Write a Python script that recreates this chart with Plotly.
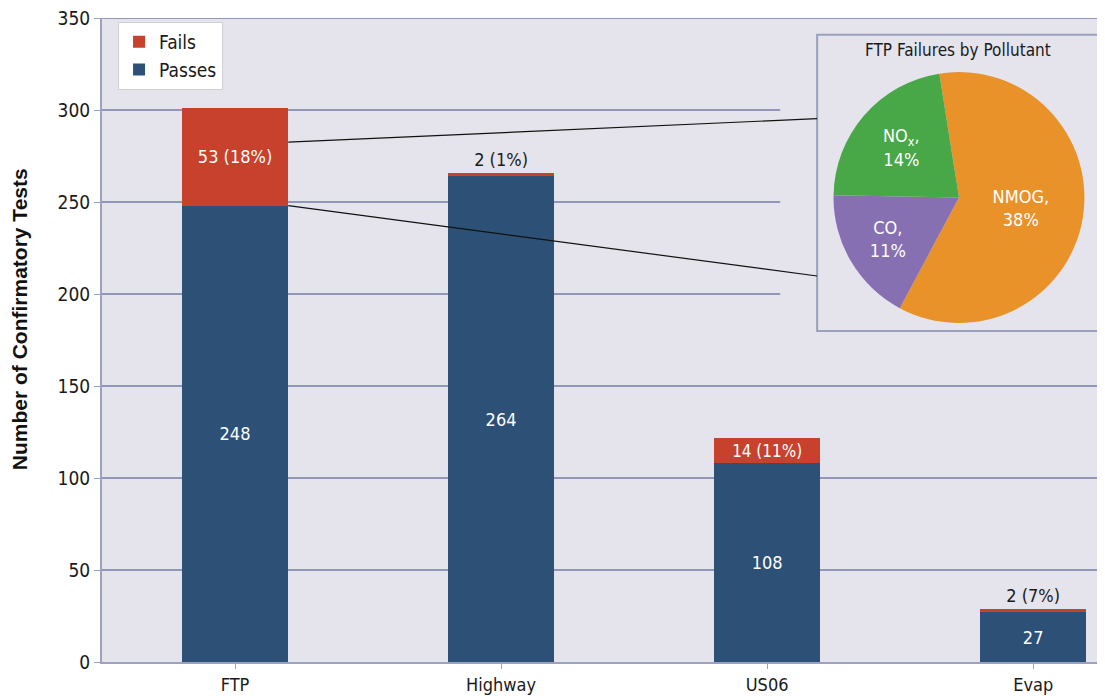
import plotly.graph_objects as go

categories = ["FTP", "Highway", "US06", "Evap"]
passes = [248, 264, 108, 27]
fails = [53, 2, 14, 2]
fail_labels = ["53 (18%)", "2 (1%)", "14 (11%)", "2 (7%)"]
fail_textpos = ["inside", "outside", "inside", "outside"]

pie_labels = ["NMOG", "CO", "NO<sub>x</sub>"]
pie_values = [38, 11, 14]
pie_text = ["NMOG,<br>38%", "CO,<br>11%", "NO<sub>x</sub>,<br>14%"]
pie_colors = ["#e89229", "#8670b2", "#48a746"]

FONT = "DejaVu Sans Condensed, Liberation Sans Narrow, Roboto, sans-serif"
TITLE_FONT = "Liberation Sans, Arial, Helvetica, sans-serif"
C_PASS = "#2d5076"
C_FAIL = "#c8412c"
BG = "#e5e4ec"
GRID = "#9198b7"
AXIS = "#9aa2bd"

x_idx = list(range(len(categories)))

fig = go.Figure()
fig.add_trace(go.Bar(
    x=x_idx, y=passes, name="Passes", marker=dict(color=C_PASS, line=dict(width=0)),
    width=0.4, text=[str(v) for v in passes], textposition="inside",
    insidetextanchor="middle", textangle=0,
    insidetextfont=dict(color="white", size=18, family=FONT),
))
fig.add_trace(go.Bar(
    x=x_idx, y=fails, name="Fails", marker=dict(color=C_FAIL, line=dict(width=0)),
    width=0.4, text=fail_labels, textposition=fail_textpos,
    insidetextanchor="middle", textangle=0, cliponaxis=False,
    insidetextfont=dict(color="white", size=18, family=FONT),
    outsidetextfont=dict(color="#1a1a1a", size=18, family=FONT),
))
fig.add_trace(go.Pie(
    labels=pie_labels, values=pie_values, text=pie_text, textinfo="text",
    marker=dict(colors=pie_colors, line=dict(width=0)),
    sort=False, direction="clockwise", rotation=-9,
    textposition="inside", insidetextorientation="horizontal",
    textfont=dict(color="white", size=18, family=FONT),
    domain=dict(x=[0.7288, 0.980], y=[0.5264, 0.916]),
    showlegend=False, hoverinfo="label+value",
))

shapes = [
    # top gridline at 350
    dict(type="line", xref="paper", yref="y", x0=0, x1=1, y0=350, y1=350,
         line=dict(color=GRID, width=2), layer="between"),
    # inset background (covers gridlines)
    dict(type="rect", xref="x", yref="y", x0=2.049, x1=3.6, y0=177.5, y1=345,
         fillcolor=BG, line=dict(width=0), layer="between"),
    # inset border
    dict(type="rect", xref="x", yref="y", x0=2.188, x1=3.6, y0=179.9, y1=340.9,
         fillcolor="rgba(0,0,0,0)", line=dict(color="#9aa0bd", width=2), layer="between"),
    # connectors
    dict(type="line", xref="x", yref="y", x0=0.2, y0=282.5, x1=2.188, y1=295.3,
         line=dict(color="#111111", width=1.2), layer="above"),
    dict(type="line", xref="x", yref="y", x0=0.2, y0=248, x1=2.188, y1=209.8,
         line=dict(color="#111111", width=1.2), layer="above"),
]

fig.update_layout(
    width=1105, height=696,
    margin=dict(l=94, r=8, t=10, b=42, autoexpand=False),
    paper_bgcolor="white", plot_bgcolor=BG,
    barmode="stack", bargap=0.6,
    font=dict(family=FONT, size=17, color="#1a1a1a"),
    shapes=shapes,
    legend=dict(
        x=0.016, y=0.994, xanchor="left", yanchor="top",
        bgcolor="white", bordercolor="#cfcfd6", borderwidth=1,
        traceorder="reversed", font=dict(size=19, family=FONT),
        itemwidth=30, tracegroupgap=0,
    ),
    annotations=[
        dict(text="FTP Failures by Pollutant", xref="paper", yref="paper",
             x=0.853, y=0.950, xanchor="center", yanchor="middle", showarrow=False,
             font=dict(size=17, family=FONT, color="#1a1a1a")),
        dict(text="<b>Number of Confirmatory Tests</b>", xref="paper", yref="paper",
             x=-0.082, y=0.532, xanchor="center", yanchor="middle", textangle=-90,
             showarrow=False, font=dict(size=21, family=TITLE_FONT, color="#111111")),
    ],
    xaxis=dict(
        tickmode="array", tickvals=x_idx, ticktext=categories,
        range=[-0.5, 3.27], showgrid=False, zeroline=False, automargin=False,
        showline=True, linecolor=AXIS, linewidth=2,
        ticks="outside", tickson="boundaries", ticklen=5, tickcolor=AXIS,
        tickfont=dict(size=18, family=FONT, color="#1a1a1a"),
    ),
    yaxis=dict(
        range=[0, 350], dtick=50, tick0=0, ticklabeloverflow="allow", automargin=False,
        showgrid=True, gridcolor=GRID, gridwidth=2, zeroline=False,
        showline=True, linecolor=AXIS, linewidth=2,
        ticks="outside", ticklen=6, tickcolor=AXIS,
        tickfont=dict(size=19, family=FONT, color="#1a1a1a"),
    ),
)

fig.write_html("out.html")
